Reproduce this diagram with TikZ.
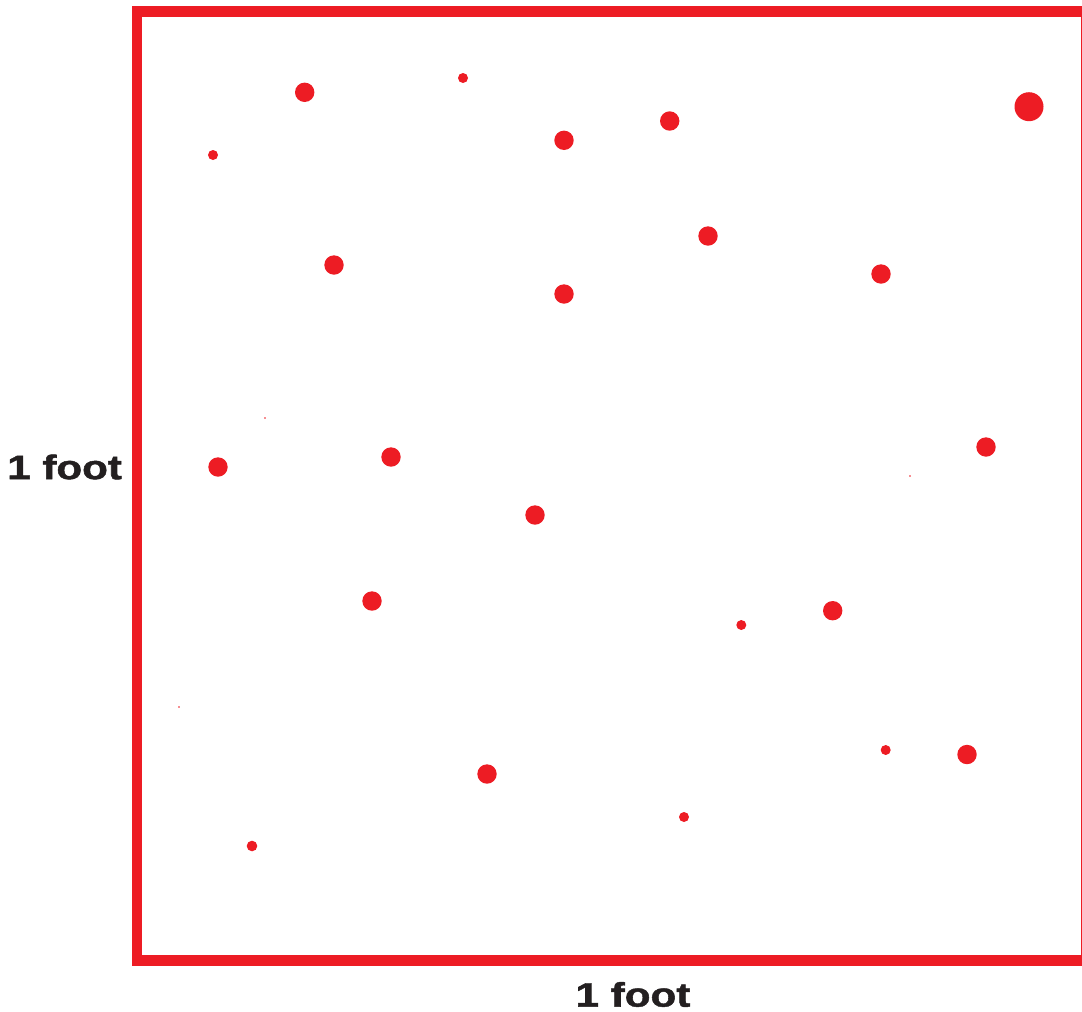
\documentclass[tikz,border=0pt]{standalone}
\usepackage{fontspec}
\setmainfont{Liberation Sans}
\newfontfamily\heavyfont[BoldFeatures={FakeBold=1.3}]{Liberation Sans}
\definecolor{frred}{HTML}{ED1C24}
\definecolor{txtdark}{HTML}{231F20}
\begin{document}
\begin{tikzpicture}[x=1pt,y=-1pt,
  dot/.style={fill=frred,draw=none,circle,inner sep=0pt,minimum size=#1},
  lbl/.style={font=\heavyfont\fontsize{34}{36}\selectfont\bfseries,text=txtdark,inner sep=0pt,xscale=1.24,transform shape}]
\useasboundingbox (0,0) rectangle (1082,1012);
\draw[frred,line width=10.5pt] (137,11.3) rectangle (1086.5,960.5);
\foreach \x/\y/\r [count=\i] in {
  304.7/92.3/9.7, 463/78/5, 213/155/5, 564/140.3/9.7, 669.7/121/9.7,
  1029/106.7/14.5, 334/265/9.7, 708/236/9.7, 564/294/9.7, 881/274/9.7,
  218/467/9.7, 391/457/9.7, 986/447/9.7, 535/515/9.7, 372/601/9.7,
  832.7/610.7/9.7, 741.3/625/5, 885.7/750/5, 967/754.5/9.7, 487/774/9.7,
  684/817/5, 252/846/5.3, 265/418/0.8, 910/476/0.8, 179/707/0.8}
  \node[dot=2*\r pt] (d\i) at (\x,\y) {};
\node[lbl,anchor=west] (lfoot) at (7,467) {1 foot};
\node[lbl] (bfoot) at (633,994.5) {1 foot};
\end{tikzpicture}
\end{document}
